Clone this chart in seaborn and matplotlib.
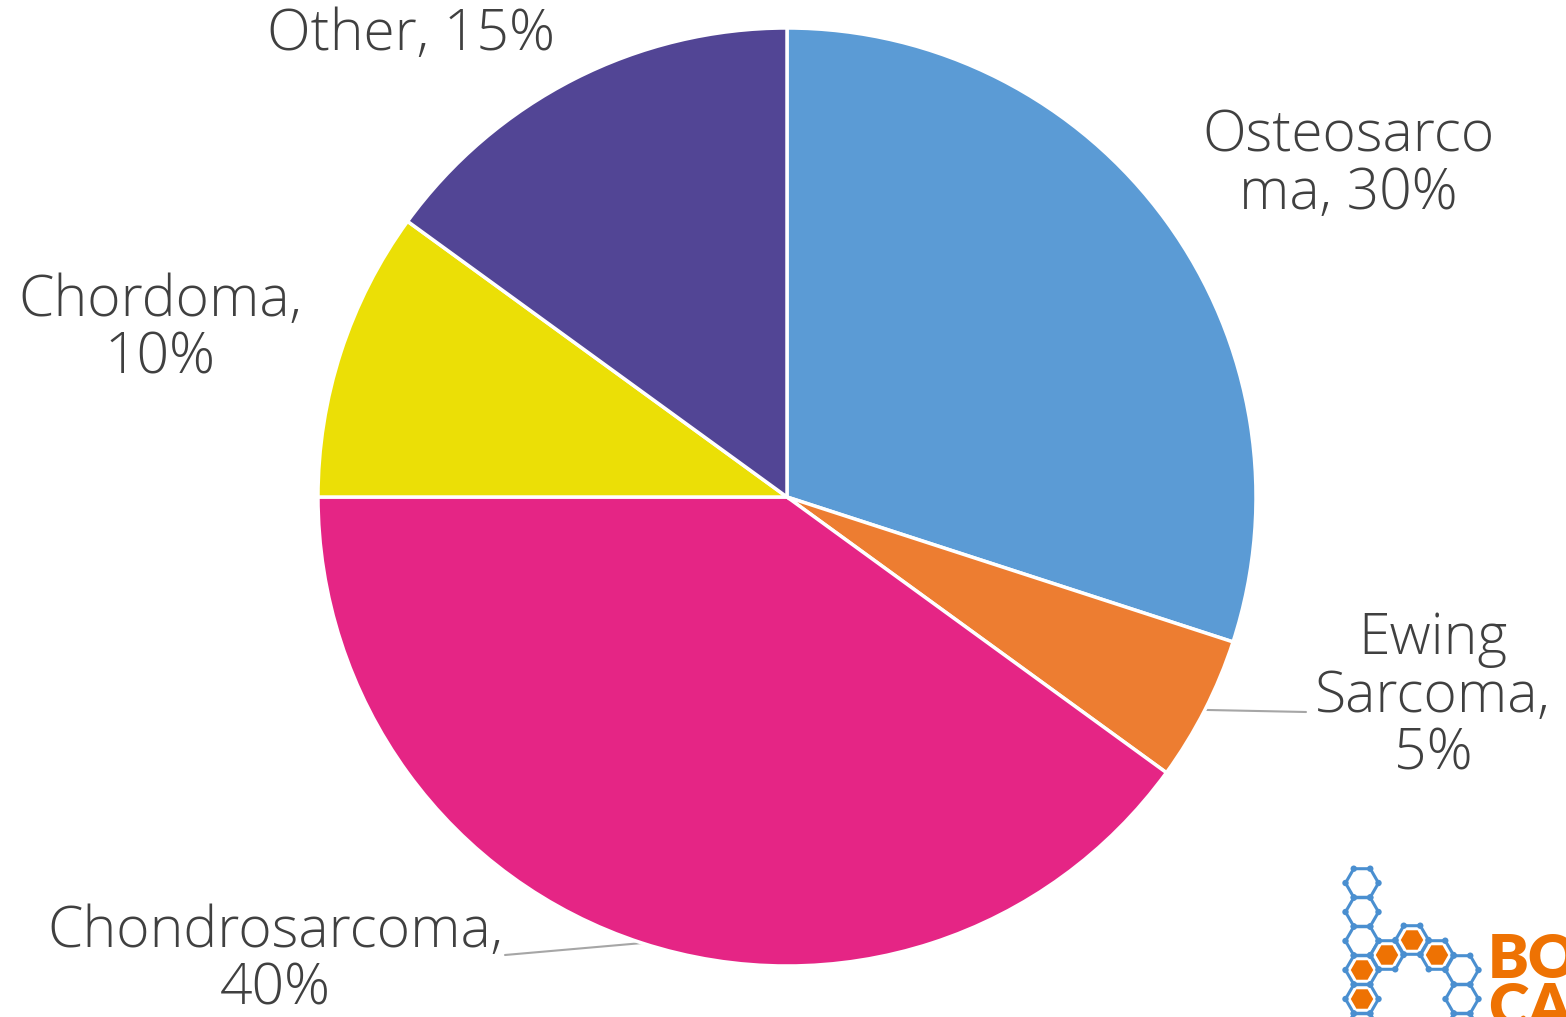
import matplotlib
matplotlib.use('Agg')
import matplotlib.pyplot as plt
import seaborn as sns
import numpy as np
from matplotlib.patches import RegularPolygon, Circle

# data
categories = ['Osteosarcoma', 'Ewing Sarcoma', 'Chondrosarcoma', 'Chordoma', 'Other']
shares = [30, 5, 40, 10, 15]
# how the labels are wrapped in the reference
wrapped_names = ['Osteosarco\nma', 'Ewing\nSarcoma', 'Chondrosarcoma', 'Chordoma', 'Other']
separators = [', ', ',\n', ',\n', ',\n', ', ']
slice_colors = ['#5B9BD5', '#ED7D31', '#E52585', '#EBDF06', '#524595']

W, H = 1566, 1017

sns.set_theme(style='white')
plt.rcParams['font.family'] = ['Open Sans', 'DejaVu Sans']

fig = plt.figure(figsize=(W / 100, H / 100), dpi=100)
ax = fig.add_axes([0, 0, 1, 1])

cx, cy, rad = 787, H - 497, 469
wedges, _ = ax.pie(shares, colors=slice_colors, startangle=90, counterclock=False,
                   center=(cx, cy), radius=rad,
                   wedgeprops=dict(edgecolor='white', linewidth=2.5))
ax.set_xlim(0, W)
ax.set_ylim(0, H)
ax.set_aspect('equal')
ax.axis('off')

# label positions (pixels from top-left) and optional leader-line end
label_pos = [(1348, 165), (1433, 697), (275, 961), (160, 330), (411, 35)]
leader_end = [None, (1306, 712), (505, 955), None, None]

for i, w in enumerate(wedges):
    txt = f'{wrapped_names[i]}{separators[i]}{shares[i]}%'
    x, y = label_pos[i]
    ax.text(x, H - y, txt, ha='center', va='center', fontsize=41, fontweight='light',
            color='#404040', linespacing=1.0)
    if leader_end[i] is not None:
        ang = np.deg2rad((w.theta1 + w.theta2) / 2)
        x0, y0 = cx + rad * np.cos(ang), cy + rad * np.sin(ang)
        ex, ey = leader_end[i]
        ax.plot([x0, ex], [y0, H - ey], color='#A6A6A6', lw=1.5, zorder=0.5)

# logo in the bottom right corner (partly cut off)
blue, orange = '#4A8FD0', '#EE7203'
R = 16.5
hexes = [(1362, 883), (1362, 912), (1362, 941), (1362, 970), (1362, 999), (1362, 1028),
         (1387, 955), (1412, 940), (1437, 955), (1462, 970), (1462, 999), (1462, 1028)]
filled = {(1362, 970), (1362, 999), (1387, 955), (1412, 940), (1437, 955)}
for hx, hy in hexes:
    ax.add_patch(RegularPolygon((hx, H - hy), 6, radius=R, orientation=np.pi / 6,
                                facecolor='white', edgecolor=blue, lw=2.2, zorder=3))
    if (hx, hy) in filled:
        ax.add_patch(RegularPolygon((hx, H - hy), 6, radius=R * 0.68, orientation=np.pi / 6,
                                    facecolor=orange, edgecolor='none', zorder=4))
    for k in range(6):
        a = np.pi / 3 * k
        ax.add_patch(Circle((hx + R * np.cos(a), H - hy + R * np.sin(a)), 3.2,
                            facecolor=blue, edgecolor='none', zorder=5))
ax.text(1488, H - 1027, 'BO\nCA', ha='left', va='baseline', fontsize=44, fontweight='heavy',
        color=orange, linespacing=0.85, family=['Lato', 'DejaVu Sans'])

fig.savefig('out.png', dpi=100)
